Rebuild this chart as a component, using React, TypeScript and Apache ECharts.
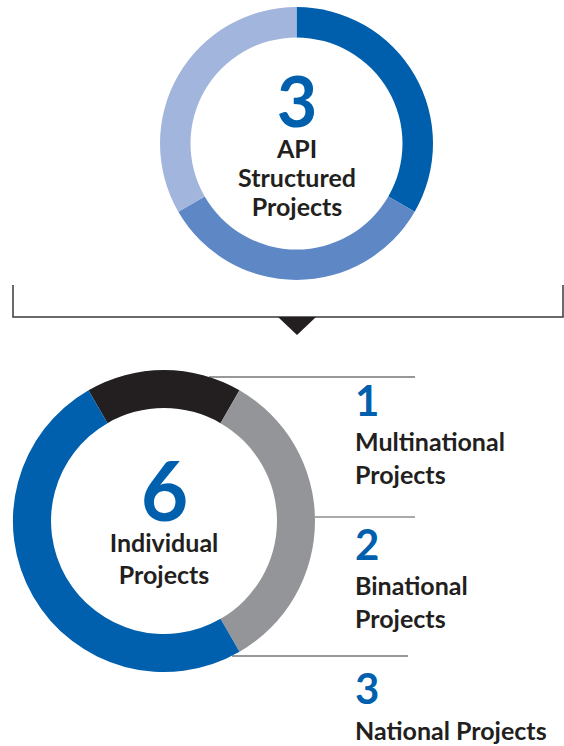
import React, { useEffect, useRef } from "react";
import * as echarts from "echarts";

// ---- Data ----
const topCategories = ["Structured Project A", "Structured Project B", "Structured Project C"];
const topValues = [1, 1, 1];
const topColors = ["#005FAD", "#5E87C6", "#A2B5DC"];
const topCaption = ["API", "Structured", "Projects"];

const bottomCategories = ["Multinational Projects", "Binational Projects", "National Projects"];
const bottomValues = [1, 2, 3];
const bottomColors = ["#231F20", "#939598", "#0060AD"];
const bottomCaption = ["Individual", "Projects"];
const rightLabelLines = [["Multinational", "Projects"], ["Binational", "Projects"], ["National Projects"]];

const FONT = "Lato, 'Noto Sans', sans-serif";
const BLUE = "#0060AD";
const INK = "#231F20";

function txt(text: string, x: number, y: number, size: number, color: string, align: string = "center", lh?: number) {
  const style: any = {
    text,
    fill: color,
    font: `bold ${size}px ${FONT}`,
    align,
    verticalAlign: "middle",
  };
  if (lh) style.lineHeight = lh;
  return { type: "text", x, y, silent: true, style };
}

export default function App() {
  const ref = useRef<HTMLDivElement>(null);

  useEffect(() => {
    if (!ref.current) return;
    const chart = echarts.init(ref.current, undefined, { renderer: "svg" });

    const topTotal = topValues.reduce((a, b) => a + b, 0);
    const bottomTotal = bottomValues.reduce((a, b) => a + b, 0);

    const graphics: any[] = [];
    // top center texts
    graphics.push(txt(String(topTotal), 297, 100, 70, BLUE, "center", 52));
    const topYs = [147.5, 177, 206];
    topCaption.forEach((t, i) => graphics.push(txt(t, 297, topYs[i], 25, INK, "center", 22)));

    // bracket
    graphics.push({
      type: "polyline",
      silent: true,
      shape: { points: [[13, 285], [13, 317], [563, 317], [563, 285]] },
      style: { stroke: "#3a3a3a", lineWidth: 1.5, fill: "none" },
    });
    graphics.push({
      type: "polygon",
      silent: true,
      shape: { points: [[278, 317], [316, 317], [297, 335]] },
      style: { fill: INK },
    });

    // bottom center texts
    graphics.push(txt(String(bottomTotal), 164.5, 488.5, 82, BLUE, "center", 60));
    const botYs = [542, 574];
    bottomCaption.forEach((t, i) => graphics.push(txt(t, 164, botYs[i], 25, INK, "center", 22)));

    // connectors
    const connectors = [
      [209, 377, 415],
      [315, 517, 415],
      [232, 656, 408],
    ];
    connectors.forEach(([x1, y, x2], i) =>
      graphics.push({
        type: "line",
        silent: true,
        shape: { x1, y1: y, x2, y2: y },
        style: { stroke: i === 1 ? "#555" : "#333", lineWidth: 1.2 },
      })
    );

    // right labels
    const numYs = [400, 543.5, 688];
    const lineYs = [[441, 474], [585, 618], [729.5]];
    bottomValues.forEach((v, i) => {
      graphics.push(txt(String(v), 355, numYs[i], 42, BLUE, "left", 32));
      rightLabelLines[i].forEach((t, j) => graphics.push(txt(t, 355, lineYs[i][j], 25, INK, "left", 22)));
    });

    chart.setOption({
      animation: false,
      backgroundColor: "#ffffff",
      series: [
        {
          type: "pie",
          center: [296.5, 143.5],
          radius: [106, 136.5],
          startAngle: 90,
          clockwise: true,
          silent: true,
          label: { show: false },
          labelLine: { show: false },
          emphasis: { disabled: true },
          itemStyle: { borderWidth: 0 },
          data: topCategories.map((name, i) => ({
            name,
            value: topValues[i],
            itemStyle: { color: topColors[i] },
          })),
        },
        {
          type: "pie",
          center: [164, 521],
          radius: [113, 151],
          startAngle: 120,
          clockwise: true,
          silent: true,
          label: { show: false },
          labelLine: { show: false },
          emphasis: { disabled: true },
          itemStyle: { borderWidth: 0 },
          data: bottomCategories.map((name, i) => ({
            name,
            value: bottomValues[i],
            itemStyle: { color: bottomColors[i] },
          })),
        },
      ],
      graphic: graphics,
    });

    return () => chart.dispose();
  }, []);

  return (
    <div
      ref={ref}
      style={{ position: "fixed", left: 0, top: 0, width: 564, height: 746 }}
    />
  );
}
